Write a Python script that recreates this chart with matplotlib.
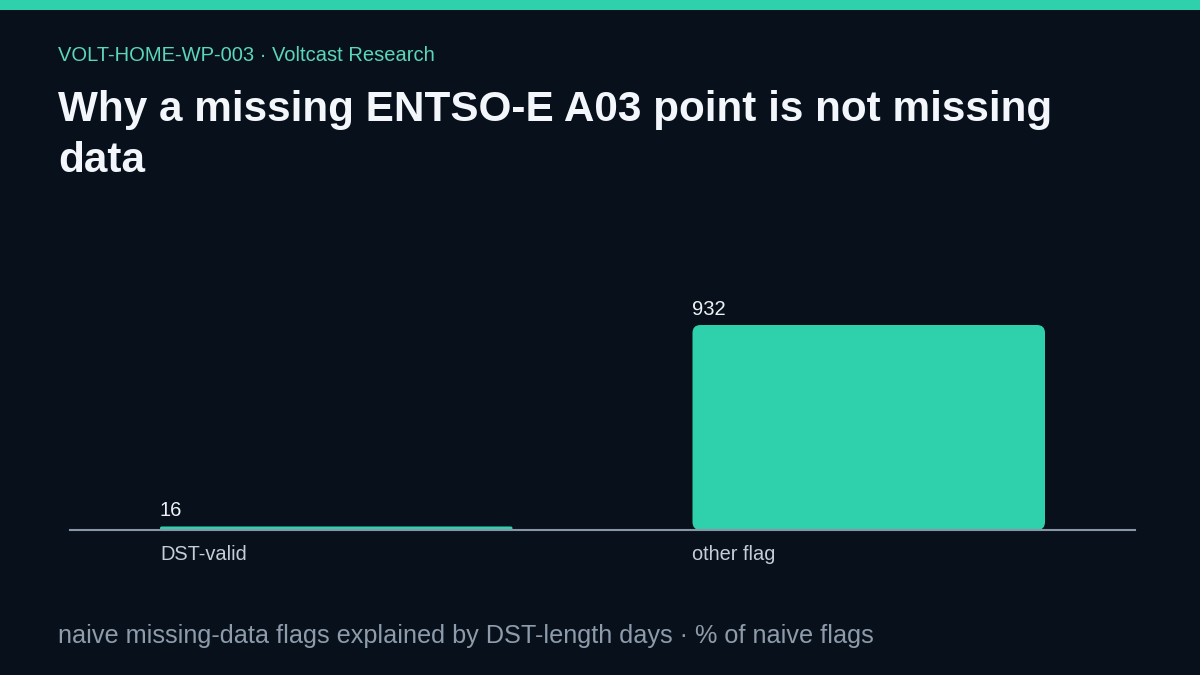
import matplotlib.pyplot as plt
from matplotlib.patches import FancyBboxPatch, Rectangle

# chart data
categories = ["DST-valid", "other flag"]
values = [16, 932]
value_labels = ["16", "932"]

kicker = "VOLT-HOME-WP-003 · Voltcast Research"
title_lines = ["Why a missing ENTSO-E A03 point is not missing", "data"]
footer = "naive missing-data flags explained by DST-length days · % of naive flags"

BG = "#08111b"
ACCENT = "#2fd0ac"

plt.rcParams['font.family'] = ['Liberation Sans', 'DejaVu Sans']

fig = plt.figure(figsize=(12, 6.75), dpi=100, facecolor=BG)

# top accent stripe
fig.patches.append(Rectangle((0, 1 - 10 / 675), 1, 10 / 675, transform=fig.transFigure,
                             facecolor=ACCENT, edgecolor="none"))

fig.text(58 / 1200, 1 - 61 / 675, kicker, color="#5cd6b9", fontsize=14.5, va="baseline")
for i, line in enumerate(title_lines):
    fig.text(58 / 1200, 1 - (121 + 51 * i) / 675, line, color="#f3f6fa", fontsize=30.4,
             fontweight="bold", va="baseline")
fig.text(58 / 1200, 1 - 643 / 675, footer, color="#8d9bab", fontsize=18.2, va="baseline")

# axes: baseline at y=530px, x from 70 to 1135 px
ax_top_px = 205
ax = fig.add_axes([70 / 1200, 1 - 530 / 675, 1065 / 1200, (530 - ax_top_px) / 675])
ax.set_facecolor(BG)

width = 0.662
x = list(range(len(categories)))
ymax = max(values) * (530 - ax_top_px) / (530 - 325)
ax.set_xlim(-0.5, len(categories) - 0.5)
ax.set_ylim(0, ymax)

bars = ax.bar(x, values, width=width, color=ACCENT)

# swap plain rectangles for rounded ones
fig.canvas.draw()
px_x = ax.transData.transform((1, 0))[0] - ax.transData.transform((0, 0))[0]
px_y = ax.transData.transform((0, 1))[1] - ax.transData.transform((0, 0))[1]
aspect = px_x / px_y
for b in bars:
    bx, by = b.get_x(), b.get_y()
    bw, bh = b.get_width(), b.get_height()
    r_px = min(8, bh * px_y / 2)
    rounded = FancyBboxPatch((bx, by), bw, bh,
                             boxstyle=f"round,pad=0,rounding_size={r_px / px_x}",
                             mutation_aspect=aspect, facecolor=ACCENT, edgecolor="none")
    ax.add_patch(rounded)
    b.set_visible(False)

for xi, v, lab in zip(x, values, value_labels):
    ax.annotate(lab, (xi - width / 2, v), xytext=(0, 4.5), textcoords="offset points",
                ha="left", va="bottom", color="#eef2f6", fontsize=14.5)

ax.set_xticks([xi - width / 2 for xi in x])
ax.set_xticklabels(categories, ha="left", color="#c5cdd6", fontsize=14.4)
ax.tick_params(axis="x", length=0, pad=10.5)
ax.set_yticks([])

for s in ["top", "right", "left"]:
    ax.spines[s].set_visible(False)
ax.spines["bottom"].set_color("#8896a8")
ax.spines["bottom"].set_linewidth(1.5)

fig.savefig("out.png", dpi=100, facecolor=BG)
